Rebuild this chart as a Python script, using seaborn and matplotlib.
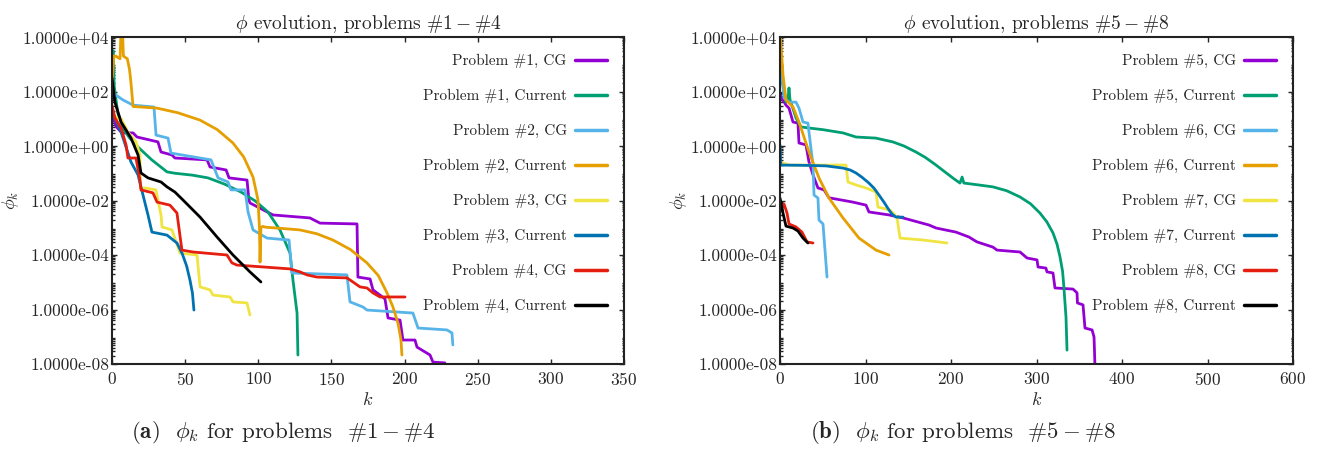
import numpy as np
import pandas as pd
import matplotlib
matplotlib.use("Agg")
import matplotlib.pyplot as plt
import seaborn as sns
from matplotlib.ticker import LogLocator, NullFormatter, FixedLocator

sns.set_style("ticks")
plt.rcParams['font.family'] = ['cmr10', 'DejaVu Serif']
plt.rcParams['mathtext.fontset'] = 'cm'
plt.rcParams['axes.unicode_minus'] = False
plt.rcParams['axes.formatter.use_mathtext'] = True

# ---------------- data (k, log10(phi_k)) ----------------
# Panel (a)
p1_cg_k = [0, 3, 6.8, 14.4, 17.1, 31.4, 33.5, 41, 43, 65, 67, 78, 80, 92.3, 93.6, 94.3, 110, 135.3, 142.2,
           167.5, 168.1, 176.4, 178.4, 186.6, 188.7, 196.9, 198.9, 207.1, 208.5, 217.4, 219.4, 227.6]
p1_cg_lg = [1.2, 0.7, 0.48, 0.48, 0.33, 0.15, -0.22, -0.33, -0.44, -0.51, -0.77, -0.88, -1.17, -1.25, -1.98,
            -2.09, -2.53, -2.64, -2.83, -2.86, -4.81, -4.88, -5.28, -5.61, -6.31, -6.39, -7.12, -7.12, -7.38,
            -7.67, -7.93, -7.96]
p1_cur_k = [0, 0.7, 1.5, 4, 8, 12, 17, 27, 37.6, 43, 55, 65.6, 77, 88.2, 98, 106.6, 114.8, 121.7, 123.7,
            126.5, 127.1]
p1_cur_lg = [2.5, 3.5, 2.2, 1.2, 0.6, 0.3, 0.0, -0.5, -0.95, -1.0, -1.07, -1.17, -1.4, -1.69, -2.02, -2.42,
             -3.08, -3.93, -4.92, -6.13, -7.67]
p2_cg_k = [0, 2.7, 7.5, 14.4, 28.7, 30.1, 38.3, 40.3, 67.7, 72.5, 79.3, 81.3, 90.9, 93, 96.4, 106, 121, 123,
           160.6, 162.7, 171.6, 174.3, 205.7, 209.2, 229, 232.4, 233]
p2_cg_lg = [1.8, 1.87, 1.69, 1.5, 1.43, 0.4, 0.29, -0.26, -0.51, -1.17, -1.32, -1.61, -1.61, -2.42, -3.08,
            -3.38, -3.45, -4.66, -4.73, -5.72, -5.91, -6.02, -6.13, -6.68, -6.75, -6.86, -7.3]
p2_cur_k = [0, 1.2, 2.5, 5.5, 6.3, 7.0, 7.8, 10.5, 12, 13, 14.4, 30.8, 45, 60.2, 72, 82.7, 90, 96.4, 99.8,
            100.8, 101.2, 101.8, 103, 105, 115, 128.5, 140, 151, 163, 174.3, 182, 188, 192, 195.5, 197.5, 198.2]
p2_cur_lg = [2.3, 3.3, 3.3, 3.2, 4.5, 4.5, 3.3, 3.2, 2.8, 2.3, 1.45, 1.39, 1.22, 0.95, 0.6, 0.11, -0.4, -1.14,
             -1.98, -3.0, -4.26, -3.0, -2.95, -2.98, -3.02, -3.08, -3.22, -3.45, -3.8, -4.29, -4.75, -5.39,
             -5.9, -6.5, -7.1, -7.67]
p3_cg_k = [0, 4, 6.2, 10.9, 16.4, 19.1, 19.4, 22.6, 30, 33.5, 34.2, 41, 46.5, 58.1, 60.2, 67, 69, 80.7, 82.7,
           92.3, 94.3]
p3_cg_lg = [1.2, 1.0, 1.0, 0.51, 0.15, -0.33, -1.54, -1.54, -1.61, -2.53, -2.97, -3.08, -3.93, -4.0, -5.17,
            -5.28, -5.47, -5.54, -5.72, -5.76, -6.2]
p3_cur_k = [0, 6.2, 13, 17.8, 19.8, 24.6, 27.3, 37.6, 44.4, 48, 51, 53.3, 55, 56]
p3_cur_lg = [1.25, 0.51, -0.59, -1.06, -1.5, -2.53, -3.16, -3.27, -3.56, -3.95, -4.4, -4.92, -5.4, -6.02]
p4_cg_k = [0, 2, 6.2, 9.6, 10.9, 16.4, 19.1, 19.8, 28, 30.8, 39.6, 44.4, 47.8, 55.4, 78.6, 82, 85.4, 121.7,
           128.5, 133.3, 140.1, 160.6, 164.7, 169.5, 174.3, 178.4, 183.2, 200.3]
p4_cg_lg = [1.5, 1.03, 0.66, 0.04, -0.44, -0.44, -1.25, -1.61, -1.72, -2.06, -2.17, -2.46, -3.82, -3.89, -4.0,
            -4.29, -4.37, -4.51, -4.62, -4.73, -4.81, -4.84, -4.99, -5.17, -5.21, -5.39, -5.54, -5.54]
p4_cur_k = [0, 2, 6.2, 13, 17.8, 19.8, 24.6, 33.5, 37.6, 43, 48.5, 60.2, 71.8, 82.7, 94.3, 101.8]
p4_cur_lg = [2.5, 1.61, 0.88, 0.29, -0.33, -0.99, -1.17, -1.32, -1.5, -1.69, -1.98, -2.61, -3.34, -4.0, -4.62,
             -4.99]

# Panel (b)
p5_cg_k = [0, 7, 10.5, 15.2, 21, 22.2, 30.4, 33.9, 38.6, 44.4, 51.5, 57.3, 85.4, 100.6, 104, 127.5, 143.9,
           174.3, 182.5, 205.8, 221, 230.4, 249, 253.8, 280.7, 288.9, 300.6, 301.8, 311, 312.3, 319.3, 321.6,
           342.7, 347.4, 347.9, 354.4, 356.7, 365, 367.3, 368.4]
p5_cg_lg = [1.87, 1.5, 1.39, 0.88, 0.84, 0.11, 0.04, -0.59, -1.06, -1.54, -1.61, -1.9, -2.06, -2.17, -2.42,
            -2.53, -2.64, -2.9, -3.01, -3.16, -3.34, -3.52, -3.71, -3.82, -3.89, -4.11, -4.18, -4.44, -4.48,
            -4.62, -4.66, -5.21, -5.25, -5.39, -5.76, -5.83, -6.68, -6.75, -7.01, -8.1]
p5_cur_k = [0, 7, 9.4, 10.5, 11.7, 18.7, 24.6, 33.9, 50, 73.7, 88.9, 112, 132, 145, 159, 170, 182.5, 192, 202,
            210.5, 213, 215, 230, 249, 265, 280.7, 293, 304, 312, 319.3, 324, 327.5, 330.5, 332, 334.5, 335.7]
p5_cur_lg = [2.86, 1.61, 1.7, 2.13, 1.7, 1.03, 0.7, 0.66, 0.6, 0.48, 0.33, 0.29, 0.15, 0.0, -0.22, -0.42,
             -0.7, -0.93, -1.17, -1.36, -1.14, -1.36, -1.42, -1.5, -1.64, -1.87, -2.12, -2.46, -2.78, -3.19,
             -3.6, -4.07, -4.6, -5.17, -6.28, -7.49]
p6_cg_k = [0, 4.7, 10.5, 18.7, 22.2, 26.9, 32.7, 33.9, 38.6, 39.8, 44.4, 45.6, 50.3, 55]
p6_cg_lg = [3.34, 1.76, 1.61, 1.61, 1.39, 0.88, 0.84, 0.51, -0.7, -1.8, -1.91, -2.72, -2.86, -4.81]
p6_cur_k = [0, 3.5, 7, 15.2, 22.2, 33.9, 45.6, 57.3, 73.7, 92.4, 112.3, 127.5]
p6_cur_lg = [4.26, 2.61, 1.69, 1.43, 0.88, -0.22, -1.17, -1.91, -2.64, -3.38, -3.82, -4.0]
p7_cg_k = [0, 10.5, 77.2, 79.5, 88.9, 100.6, 112.3, 114.6, 128.7, 136.8, 140.4, 167.3, 195.3]
p7_cg_lg = [-0.59, -0.7, -0.7, -1.32, -1.43, -1.54, -1.69, -2.24, -2.35, -2.61, -3.38, -3.45, -3.56]
p7_cur_k = [0, 1, 30, 53.8, 73.7, 82, 88.9, 96, 104, 110, 115.8, 122, 127.5, 131, 135.7, 143.9]
p7_cur_lg = [0.04, -0.7, -0.71, -0.73, -0.81, -0.88, -0.99, -1.15, -1.36, -1.55, -1.8, -2.08, -2.35, -2.5,
             -2.61, -2.61]
p8_cg_k = [0, 1.2, 4.7, 8.2, 10.5, 18.7, 25.7, 31.6, 38.6]
p8_cg_lg = [-1.98, -2.3, -2.13, -2.46, -2.86, -2.97, -3.16, -3.52, -3.56]
p8_cur_k = [0, 3.5, 7, 15.2, 21, 26.9, 32.7]
p8_cur_lg = [-1.91, -2.46, -2.94, -3.01, -3.12, -3.38, -3.56]

colors = ["#9400D3", "#009E73", "#56B4E9", "#E69F00", "#F0E442", "#0072B2", "#E51E10", "#000000"]

panel_a = [("Problem #1, CG", p1_cg_k, p1_cg_lg), ("Problem #1, Current", p1_cur_k, p1_cur_lg),
           ("Problem #2, CG", p2_cg_k, p2_cg_lg), ("Problem #2, Current", p2_cur_k, p2_cur_lg),
           ("Problem #3, CG", p3_cg_k, p3_cg_lg), ("Problem #3, Current", p3_cur_k, p3_cur_lg),
           ("Problem #4, CG", p4_cg_k, p4_cg_lg), ("Problem #4, Current", p4_cur_k, p4_cur_lg)]
panel_b = [("Problem #5, CG", p5_cg_k, p5_cg_lg), ("Problem #5, Current", p5_cur_k, p5_cur_lg),
           ("Problem #6, CG", p6_cg_k, p6_cg_lg), ("Problem #6, Current", p6_cur_k, p6_cur_lg),
           ("Problem #7, CG", p7_cg_k, p7_cg_lg), ("Problem #7, Current", p7_cur_k, p7_cur_lg),
           ("Problem #8, CG", p8_cg_k, p8_cg_lg), ("Problem #8, Current", p8_cur_k, p8_cur_lg)]

ytick_vals = [1e4, 1e2, 1e0, 1e-2, 1e-4, 1e-6, 1e-8]
ytick_labels = ["1.0000e+04", "1.0000e+02", "1.0000e+00", "1.0000e-02", "1.0000e-04", "1.0000e-06",
                "1.0000e-08"]

W, H = 1317, 449
fig = plt.figure(figsize=(W / 100, H / 100), dpi=100)
ax_a = fig.add_axes([112 / W, 1 - 364 / H, 512 / W, 327 / H])
ax_b = fig.add_axes([780 / W, 1 - 364 / H, 513 / W, 327 / H])


def draw(ax, series, xmax, xstep, title):
    for (label, ks, lg), c in zip(series, colors):
        df = pd.DataFrame({"k": ks, "phi": 10.0 ** np.array(lg)})
        sns.lineplot(data=df, x="k", y="phi", ax=ax, color=c, lw=2.0, sort=False, estimator=None,
                     label=label)
    ax.set_yscale("log")
    ax.set_ylim(1e-8, 1e4)
    ax.set_xlim(0, xmax)
    ax.set_xticks(np.arange(0, xmax + 1, xstep))
    ax.yaxis.set_major_locator(FixedLocator(ytick_vals))
    ax.set_yticklabels(ytick_labels)
    ax.yaxis.set_minor_locator(LogLocator(base=10, subs=np.arange(2, 10), numticks=100))
    ax.yaxis.set_minor_formatter(NullFormatter())
    ax.tick_params(which="both", direction="in", top=True, right=True, labelsize=12.5, width=1.0)
    ax.tick_params(which="major", length=3.5)
    ax.tick_params(which="minor", length=1.8)
    ax.tick_params(axis="y", pad=2)
    ax.tick_params(axis="x", pad=5)
    for s in ax.spines.values():
        s.set_linewidth(1.5)
        s.set_color("#222222")
    ax.set_xlabel(r"$k$", fontsize=13, labelpad=2)
    ax.set_ylabel(r"$\phi_k$", fontsize=13, labelpad=1)
    ax.set_title(title, fontsize=14, pad=6)
    leg = ax.legend(loc="upper right", frameon=False, markerfirst=False, fontsize=11, labelspacing=1.36,
                    handlelength=2.1, handletextpad=0.55, borderaxespad=0.8, borderpad=0.3)
    for line in leg.get_lines():
        line.set_linewidth(2.5)


draw(ax_a, panel_a, 350, 50, r"$\phi$ evolution, problems $\#1-\#4$")
draw(ax_b, panel_b, 600, 100, r"$\phi$ evolution, problems $\#5-\#8$")

fig.text(283 / W, 1 - 432 / H, r"$\mathbf{(a)}$  $\phi_k$ for problems  $\#1-\#4$", ha="center", va="center",
         fontsize=16.5)
fig.text(963 / W, 1 - 432 / H, r"$\mathbf{(b)}$  $\phi_k$ for problems  $\#5-\#8$", ha="center", va="center",
         fontsize=16.5)

fig.savefig("out.png", dpi=100)
